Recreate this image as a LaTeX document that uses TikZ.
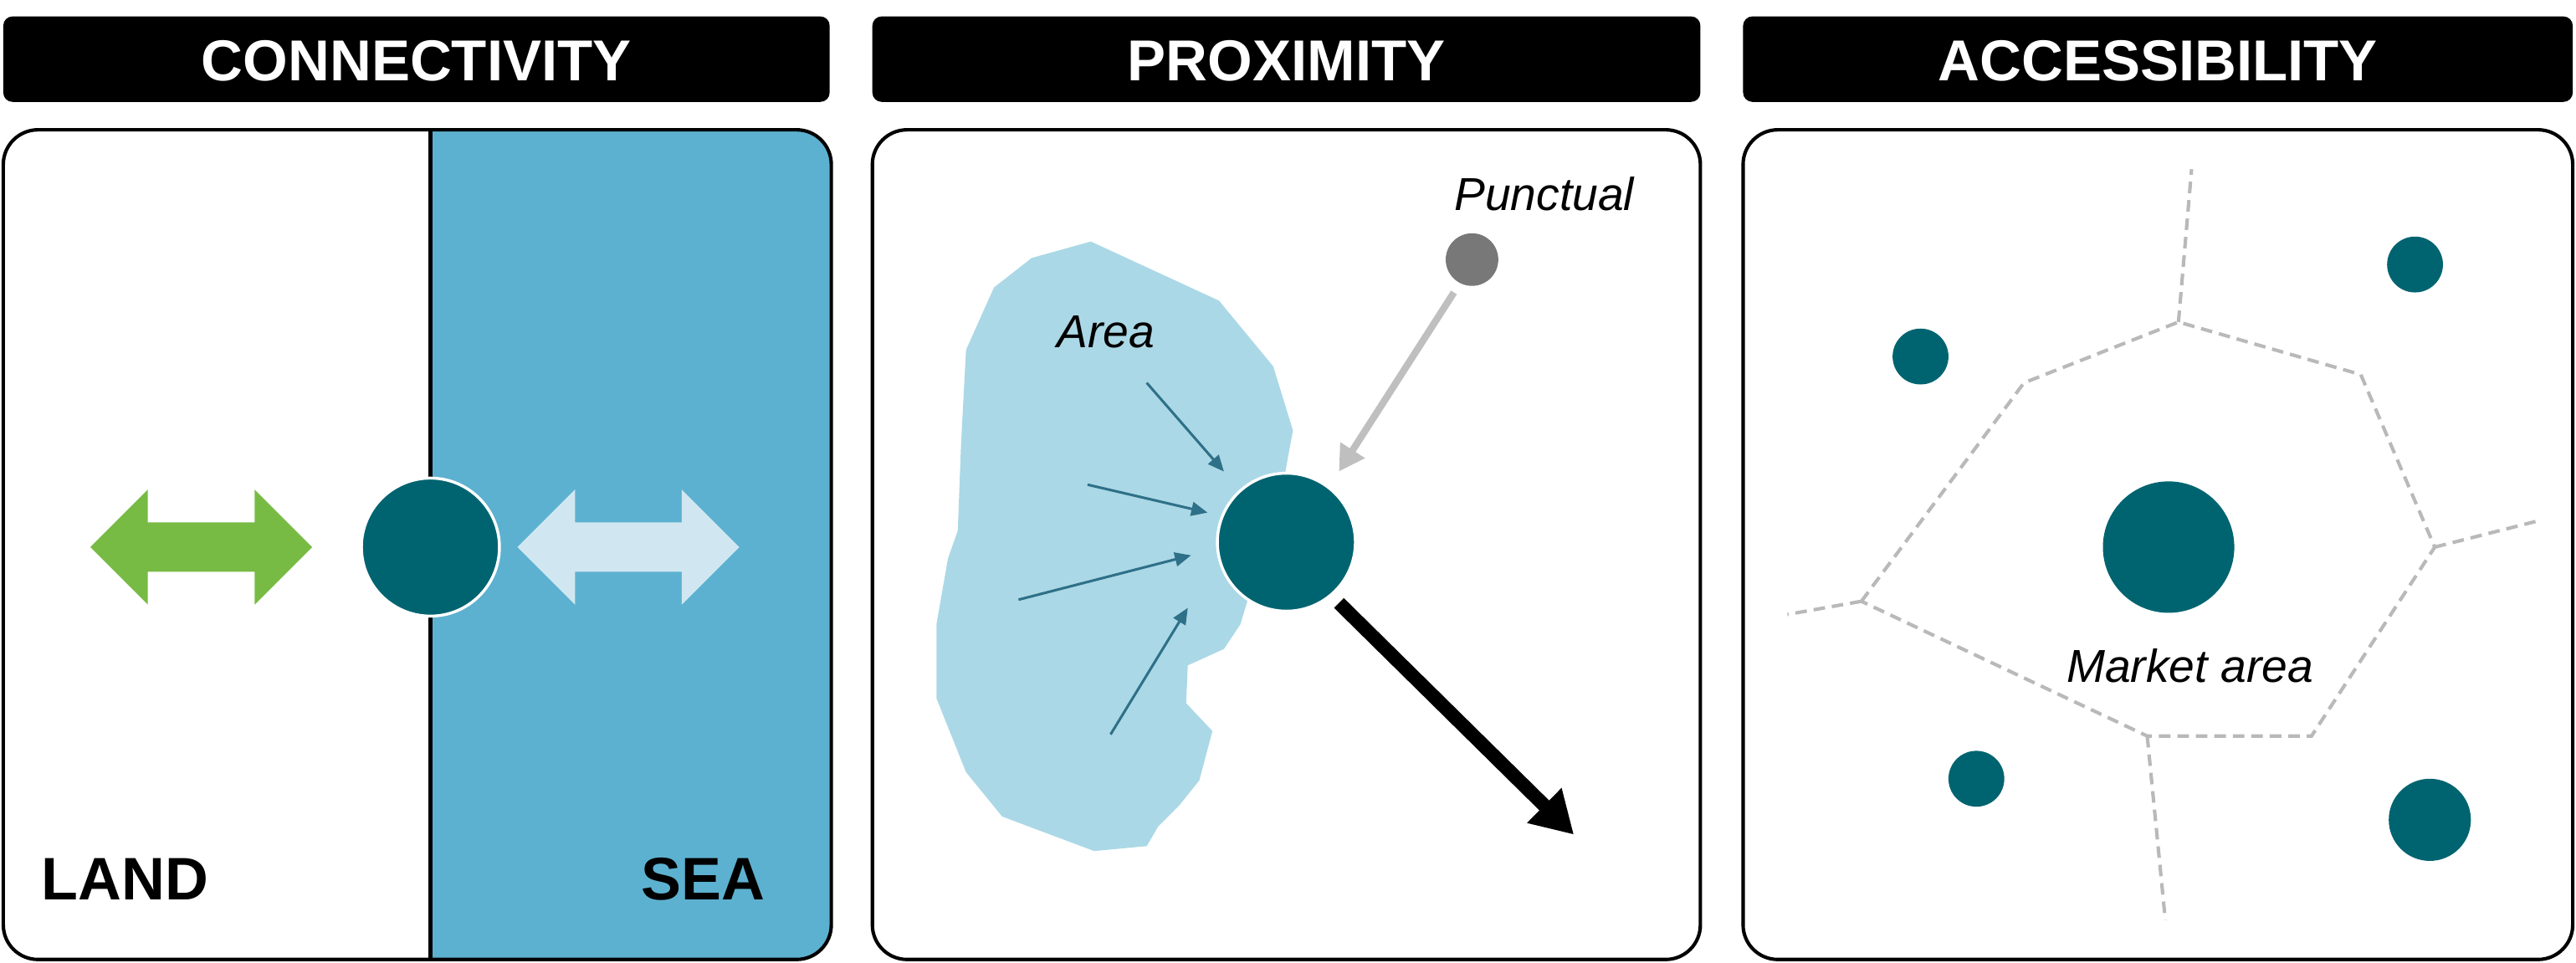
\documentclass[tikz,border=0pt]{standalone}
\usepackage{fontspec}
\setmainfont{Liberation Sans}
\usetikzlibrary{arrows.meta}
\definecolor{cteal}{HTML}{006470}
\definecolor{sea}{HTML}{5DB1D0}
\definecolor{blob}{HTML}{ABD8E6}
\definecolor{grn}{HTML}{77BB44}
\definecolor{lite}{HTML}{D0E7F1}
\definecolor{arr}{HTML}{2E7088}
\tikzset{
 hdr/.style={fill=black,rounded corners=8pt},
 hdrtxt/.style={text=white,font=\fontsize{50}{56}\selectfont\bfseries},
 panel/.style={draw=black,line width=3pt,rounded corners=30pt},
 city/.style={circle,fill=cteal,inner sep=0},
 lbl/.style={font=\fontsize{40}{46}\selectfont\itshape},
 big/.style={font=\fontsize{52}{58}\selectfont\bfseries},
 smallarr/.style={arr,line width=2.2pt,-{Triangle[length=14pt,width=12pt]}},
 dsh/.style={draw=gray!55,line width=3pt,dash pattern=on 10pt off 6pt}
}
\begin{document}
\begin{tikzpicture}[x=0.05cm,y=-0.05cm]
\useasboundingbox (0,0) rectangle (1568,586);
% headers
\foreach \a/\b/\t/\n in {2/505/CONNECTIVITY/h1,531/1035/PROXIMITY/h2,1061/1566/ACCESSIBILITY/h3}{
 \fill[hdr] (\a,10) rectangle (\b,62);
 \node[hdrtxt] (\n) at ({(\a+\b)/2},37) {\t};
}
% panel 1
\begin{scope}
\clip[rounded corners=30pt] (2,79) rectangle (506,584);
\fill[sea] (262,79) rectangle (506,584);
\end{scope}
\draw[line width=3pt] (262,79) -- (262,584);
\draw[panel] (2,79) rectangle (506,584);
\fill[grn] (55,333) -- (90,298) -- (90,318) -- (155,318) -- (155,298) -- (190,333) -- (155,368) -- (155,348) -- (90,348) -- (90,368) -- cycle;
\fill[lite] (315,333) -- (350,298) -- (350,318) -- (415,318) -- (415,298) -- (450,333) -- (415,368) -- (415,348) -- (350,348) -- (350,368) -- cycle;
\node[city,draw=white,line width=2.5pt,minimum size=84*0.05cm] (c1) at (262,333) {};
\node[big] (land) at (76,535) {LAND};
\node[big] (sea) at (428,535) {SEA};
% panel 2
\draw[panel] (531,79) rectangle (1035,584);
\fill[blob] (605,175) -- (628,157) -- (664,147) -- (742,183) -- (775,223) -- (787,262) -- (780,300) -- (770,330) -- (755,380) -- (745,395) -- (723,405) -- (722,428) -- (738,445) -- (730,475) -- (718,490) -- (705,503) -- (698,515) -- (666,518) -- (610,497) -- (588,470) -- (570,425) -- (570,380) -- (577,340) -- (583,323) -- (585,270) -- (588,213) -- cycle;
\node[lbl] (area) at (673,202) {Area};
\node[city,draw=white,line width=2.5pt,minimum size=84*0.05cm] (c2) at (783,330) {};
\coordinate (a1) at (698,233); \coordinate (b1) at (745,287);
\coordinate (a2) at (662,295); \coordinate (b2) at (735,312);
\coordinate (a3) at (620,365); \coordinate (b3) at (725,338);
\coordinate (a4) at (676,447); \coordinate (b4) at (723,370);
\foreach \i in {1,...,4}{\draw[smallarr] (a\i) -- (b\i);}
\node[circle,fill=black!53,minimum size=32*0.05cm,inner sep=0] (pt) at (896,158) {};
\node[lbl] (punct) at (940,118) {Punctual};
\coordinate (g1) at (885,178); \coordinate (g2) at (815,287);
\draw[gray!50,line width=6pt,-{Triangle[length=22pt,width=24pt]}] (g1) -- (g2);
\coordinate (k1) at (815,367); \coordinate (k2) at (958,508);
\draw[black,line width=12pt,-{Triangle[length=36pt,width=40pt]}] (k1) -- (k2);
% panel 3
\draw[panel] (1061,79) rectangle (1566,584);
\coordinate (p1) at (1133,366); \coordinate (p2) at (1232,233); \coordinate (p3) at (1326,196);
\coordinate (p4) at (1437,228); \coordinate (p5) at (1482,333); \coordinate (p6) at (1407,448);
\coordinate (p7) at (1307,448);
\draw[dsh] (p1) -- (p2) -- (p3) -- (p4) -- (p5) -- (p6) -- (p7) -- cycle;
\draw[dsh] (p1) -- (1088,374);
\draw[dsh] (p3) -- (1334,103);
\draw[dsh] (p5) -- (1545,317);
\draw[dsh] (p7) -- (1318,560);
\node[city,minimum size=80*0.05cm] (cc) at (1320,333) {};
\node[city,minimum size=34*0.05cm] (s1) at (1169,217) {};
\node[city,minimum size=34*0.05cm] (s2) at (1470,161) {};
\node[city,minimum size=34*0.05cm] (s3) at (1203,474) {};
\node[city,minimum size=50*0.05cm] (s4) at (1479,499) {};
\node[lbl] (mkt) at (1333,405) {Market area};
\end{tikzpicture}
\end{document}
